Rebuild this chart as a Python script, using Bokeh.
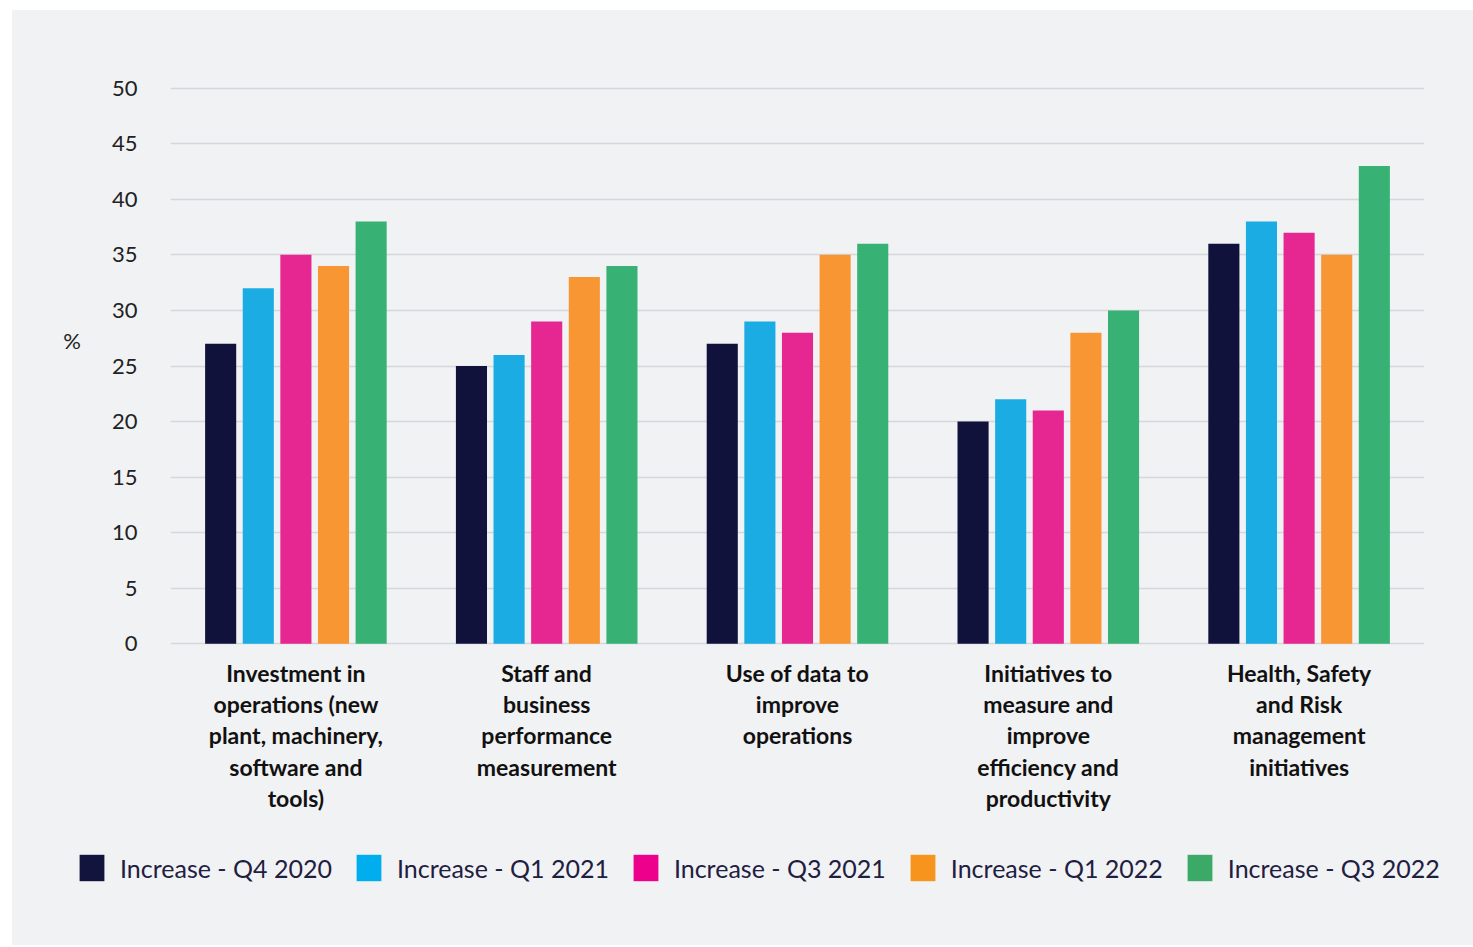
from bokeh.plotting import figure
from bokeh.models import (FactorRange, Range1d, FixedTicker, Legend, LegendItem,
                          ColumnDataSource, Spacer)
from bokeh.layouts import column, row
from bokeh.transform import dodge
from bokeh.embed import file_html
from bokeh.resources import INLINE

categories = [
    "Investment in\noperations (new\nplant, machinery,\nsoftware and\ntools)",
    "Staff and\nbusiness\nperformance\nmeasurement",
    "Use of data to\nimprove\noperations",
    "Initiatives to\nmeasure and\nimprove\nefficiency and\nproductivity",
    "Health, Safety\nand Risk\nmanagement\ninitiatives",
]
series_names = ["Increase - Q4 2020", "Increase - Q1 2021", "Increase - Q3 2021",
                "Increase - Q1 2022", "Increase - Q3 2022"]
q4_2020 = [27, 25, 27, 20, 36]
q1_2021 = [32, 26, 29, 22, 38]
q3_2021 = [35, 29, 28, 21, 37]
q1_2022 = [34, 33, 35, 28, 35]
q3_2022 = [38, 34, 36, 30, 43]
y_ticks = [0, 5, 10, 15, 20, 25, 30, 35, 40, 45, 50]

bar_colors = ["#11123c", "#1aace2", "#e62691", "#f79632", "#38b274"]
legend_colors = ["#13143d", "#00aeef", "#ec008c", "#f7941d", "#3aaa66"]
offsets = [-0.3, -0.15, 0.0, 0.15, 0.3]

BG = "#f1f2f4"

src = ColumnDataSource(dict(cat=categories, s0=q4_2020, s1=q1_2021, s2=q3_2021,
                            s3=q1_2022, s4=q3_2022))

p = figure(width=1461, height=833, x_range=FactorRange(*categories, range_padding=0),
           y_range=Range1d(-0.15, 50.15), output_backend="svg", toolbar_location=None,
           min_border_left=158, min_border_top=76, min_border_right=49,
           min_border_bottom=198)
p.background_fill_alpha = 0
p.border_fill_alpha = 0
p.outline_line_color = None

cols = ["s0", "s1", "s2", "s3", "s4"]
for c, off, col in zip(cols, offsets, bar_colors):
    p.vbar(x=dodge("cat", off, range=p.x_range), top=c, width=0.124, bottom=0,
           source=src, fill_color=col, line_color=None)

p.xgrid.grid_line_color = None
p.ygrid.grid_line_color = "#d6d7da"
p.ygrid.grid_line_width = 1.5
p.yaxis.ticker = FixedTicker(ticks=y_ticks)
for ax in (p.xaxis, p.yaxis):
    ax.axis_line_color = None
    ax.major_tick_line_color = None
    ax.minor_tick_line_color = None
p.yaxis.major_label_standoff = 27
p.yaxis.major_label_text_font = "Lato"
p.yaxis.major_label_text_font_size = "22px"
p.yaxis.major_label_text_color = "#222222"
p.yaxis.axis_label = "%\n\u00a0"
p.yaxis.axis_label_orientation = "horizontal"
p.yaxis.axis_label_text_font = "Lato"
p.yaxis.axis_label_text_font_style = "normal"
p.yaxis.axis_label_text_font_size = "22px"
p.yaxis.axis_label_text_color = "#222222"
p.yaxis.axis_label_text_line_height = 1.9
p.yaxis.axis_label_standoff = 28

p.xaxis.major_label_text_font = "Lato"
p.xaxis.major_label_text_font_style = "bold"
p.xaxis.major_label_text_font_size = "23px"
p.xaxis.major_label_text_color = "#111111"
p.xaxis.major_label_text_line_height = 1.12
p.xaxis.major_label_standoff = 7

# legend figure below the chart
lg = figure(width=1461, height=102, x_range=Range1d(0, 1), y_range=Range1d(0, 1),
            output_backend="svg", toolbar_location=None, min_border=0,
            min_border_left=0, min_border_right=0, min_border_top=0,
            min_border_bottom=0, x_axis_location=None, y_axis_location=None)
lg.background_fill_alpha = 0
lg.border_fill_alpha = 0
lg.outline_line_color = None
lg.grid.visible = False
items = []
for name, col in zip(series_names, legend_colors):
    r = lg.vbar(x=[5], top=[1], width=0.1, fill_color=col, line_color=None)
    items.append(LegendItem(label=name, renderers=[r]))
legend = Legend(items=items, orientation="horizontal", location=(64, 61),
                glyph_width=31, glyph_height=33, label_standoff=13, spacing=21,
                label_text_font="Lato", label_text_font_size="25px",
                label_text_color="#1f2041", background_fill_alpha=0,
                border_line_color=None, padding=0, margin=0)
lg.add_layout(legend, "center")

inner = column(p, row(lg), spacing=0, styles={"background-color": BG})
layout = column(Spacer(height=10), row(Spacer(width=12), inner))
open("out.html", "w").write(file_html(layout, INLINE))
